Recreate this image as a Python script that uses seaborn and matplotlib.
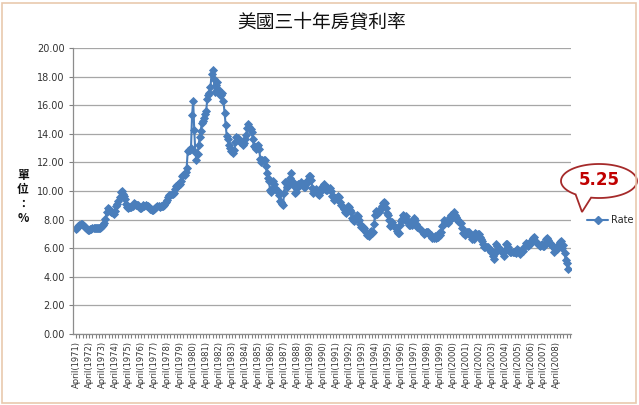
import numpy as np
import pandas as pd
import matplotlib
matplotlib.use("Agg")
import matplotlib.pyplot as plt
from matplotlib.patches import Polygon, Rectangle
from matplotlib.lines import Line2D
import seaborn as sns

# Monthly 30-year mortgage rate, April 1971 onward
r1971 = [7.31, 7.43, 7.53, 7.60, 7.70, 7.69, 7.63, 7.55, 7.48]
r1972 = [7.44, 7.32, 7.29, 7.29, 7.37, 7.37, 7.40, 7.40, 7.42, 7.42, 7.43, 7.44]
r1973 = [7.44, 7.44, 7.46, 7.54, 7.65, 7.73, 8.05, 8.50, 8.82, 8.77, 8.58, 8.54]
r1974 = [8.54, 8.46, 8.41, 8.58, 8.97, 9.09, 9.28, 9.59, 9.96, 9.98, 9.79, 9.62]
r1975 = [9.43, 9.10, 8.89, 8.82, 8.91, 8.89, 8.89, 8.94, 9.13, 9.10, 9.00, 9.03]
r1976 = [8.99, 8.85, 8.80, 8.78, 8.85, 8.99, 8.98, 9.00, 8.98, 8.94, 8.85, 8.76]
r1977 = [8.72, 8.67, 8.69, 8.75, 8.83, 8.86, 8.94, 8.94, 8.90, 8.92, 8.92, 8.96]
r1978 = [9.02, 9.15, 9.20, 9.35, 9.57, 9.71, 9.74, 9.78, 9.76, 9.86, 10.11, 10.35]
r1979 = [10.39, 10.41, 10.43, 10.50, 10.69, 11.04, 11.09, 11.09, 11.30, 11.64, 12.83, 12.90]
r1980 = [12.88, 13.04, 15.28, 16.32, 14.26, 12.71, 12.19, 12.56, 13.20, 13.79, 14.21, 14.79]
r1981 = [14.90, 15.13, 15.40, 15.58, 16.40, 16.70, 16.83, 17.29, 18.16, 18.45, 17.83, 16.92]
r1982 = [17.40, 17.60, 17.16, 16.89, 16.68, 16.70, 16.82, 16.27, 15.43, 14.61, 13.83, 13.62]
r1983 = [13.25, 13.04, 12.80, 12.78, 12.63, 12.87, 13.42, 13.81, 13.73, 13.54, 13.44, 13.42]
r1984 = [13.37, 13.23, 13.39, 13.65, 13.94, 14.42, 14.67, 14.47, 14.35, 14.13, 13.64, 13.18]
r1985 = [13.08, 12.92, 13.17, 13.20, 12.91, 12.22, 12.03, 12.19, 12.19, 12.14, 11.78, 11.26]
r1986 = [10.88, 10.71, 10.08, 9.94, 10.14, 10.68, 10.51, 10.20, 10.01, 9.98, 9.70, 9.32]
r1987 = [9.20, 9.08, 9.04, 9.83, 10.60, 10.54, 10.28, 10.33, 10.89, 11.26, 10.65, 10.64]
r1988 = [10.38, 9.89, 9.93, 10.20, 10.46, 10.46, 10.43, 10.60, 10.48, 10.30, 10.27, 10.61]
r1989 = [10.73, 10.65, 11.03, 11.05, 10.77, 10.20, 9.88, 9.99, 10.13, 9.95, 9.77, 9.74]
r1990 = [9.90, 10.20, 10.27, 10.37, 10.48, 10.16, 10.04, 10.10, 10.18, 10.18, 10.01, 9.67]
r1991 = [9.64, 9.37, 9.50, 9.49, 9.47, 9.62, 9.58, 9.24, 9.01, 8.86, 8.71, 8.50]
r1992 = [8.43, 8.76, 8.94, 8.85, 8.67, 8.51, 8.13, 7.98, 7.92, 8.09, 8.31, 8.22]
r1993 = [7.99, 7.68, 7.50, 7.47, 7.47, 7.42, 7.21, 7.11, 6.91, 6.83, 7.16, 7.17]
r1994 = [7.06, 7.15, 7.68, 8.32, 8.60, 8.40, 8.61, 8.51, 8.64, 8.93, 9.17, 9.20]
r1995 = [9.15, 8.83, 8.46, 8.32, 7.96, 7.57, 7.61, 7.86, 7.64, 7.48, 7.38, 7.20]
r1996 = [7.03, 7.08, 7.62, 7.93, 8.07, 8.32, 8.25, 8.00, 8.23, 7.92, 7.62, 7.60]
r1997 = [7.82, 7.65, 7.90, 8.14, 7.94, 7.69, 7.50, 7.48, 7.43, 7.29, 7.21, 7.10]
r1998 = [6.99, 7.04, 7.13, 7.14, 7.14, 7.00, 6.95, 6.92, 6.72, 6.71, 6.87, 6.72]
r1999 = [6.79, 6.81, 7.04, 6.92, 7.15, 7.55, 7.63, 7.94, 7.82, 7.85, 7.74, 7.91]
r2000 = [8.21, 8.33, 8.24, 8.15, 8.52, 8.29, 8.15, 8.03, 7.91, 7.80, 7.75, 7.38]
r2001 = [7.03, 7.05, 6.95, 7.08, 7.15, 7.16, 7.13, 6.95, 6.82, 6.62, 6.66, 7.07]
r2002 = [7.00, 6.89, 7.01, 6.99, 6.81, 6.65, 6.49, 6.29, 6.09, 6.11, 6.07, 6.05]
r2003 = [5.92, 5.84, 5.75, 5.81, 5.48, 5.23, 5.63, 6.26, 6.15, 5.95, 5.93, 5.88]
r2004 = [5.71, 5.64, 5.45, 5.83, 6.27, 6.29, 6.06, 5.87, 5.75, 5.72, 5.73, 5.75]
r2005 = [5.71, 5.63, 5.93, 5.86, 5.72, 5.58, 5.70, 5.82, 5.77, 6.07, 6.33, 6.27]
r2006 = [6.15, 6.25, 6.32, 6.51, 6.60, 6.68, 6.76, 6.52, 6.40, 6.36, 6.24, 6.14]
r2007 = [6.22, 6.29, 6.16, 6.18, 6.26, 6.66, 6.70, 6.57, 6.38, 6.38, 6.21, 6.10]
r2008 = [5.76, 5.92, 5.97, 5.92, 6.04, 6.32, 6.43, 6.48, 6.04, 6.20, 5.65, 5.20]
r2009 = [5.00, 4.55]

years_data = [r1971, r1972, r1973, r1974, r1975, r1976, r1977, r1978, r1979, r1980,
              r1981, r1982, r1983, r1984, r1985, r1986, r1987, r1988, r1989, r1990,
              r1991, r1992, r1993, r1994, r1995, r1996, r1997, r1998, r1999, r2000,
              r2001, r2002, r2003, r2004, r2005, r2006, r2007, r2008, r2009]
rates = [v for yr in years_data for v in yr]

label_years = list(range(1971, 2009))
tick_labels = [f"April({y})" for y in label_years]

title = "美國三十年房貸利率"
ylabel = "單\n位\n：\n%"
series_name = "Rate"
callout = "5.25"

df = pd.DataFrame({"idx": np.arange(len(rates)), "rate": rates})

sns.set_theme(style="white")
plt.rcParams["font.family"] = ["DejaVu Sans"]

W, H = 639, 405
fig = plt.figure(figsize=(W / 100, H / 100), dpi=100)
ax = fig.add_axes([73 / W, 1 - 334 / H, (571 - 73) / W, (334 - 48) / H])

blue = "#4A7EBB"
sns.lineplot(data=df, x="idx", y="rate", ax=ax, color=blue, linewidth=1.5,
             marker="D", markersize=4.2, markeredgecolor=blue, markeredgewidth=0.6)

ax.set_xlim(-3, 457)
ax.set_ylim(0, 20)
ax.set_yticks(np.arange(0, 20.01, 2))
ax.set_yticklabels([f"{v:.2f}" for v in np.arange(0, 20.01, 2)], fontsize=7, color="#333333")
ax.set_xticks(np.arange(len(tick_labels)) * 12)
ax.set_xticklabels(tick_labels, rotation=90, fontsize=6, color="#333333")
ax.set_xticks(np.arange(0, 457, 3), minor=True)
ax.tick_params(axis="x", which="both", direction="out", length=3, width=0.8,
               color="#808080", bottom=True, pad=2)
ax.tick_params(axis="y", which="major", direction="out", length=3, width=0.8,
               color="#808080", left=True, pad=3)
ax.grid(axis="y", color="#A6A6A6", linewidth=0.9)
ax.grid(axis="x", visible=False)
ax.set_axisbelow(True)
for s in ["top", "right"]:
    ax.spines[s].set_visible(False)
for s in ["left", "bottom"]:
    ax.spines[s].set_color("#8C8C8C")
    ax.spines[s].set_linewidth(0.9)
ax.set_xlabel("")
ax.set_ylabel("")

fig.text(322 / W, 1 - 22 / H, title, ha="center", va="center", fontsize=13.5,
         family=["Noto Sans CJK TC", "DejaVu Sans"], color="#111111")
fig.text(23 / W, 1 - 197 / H, ylabel, ha="center", va="center", fontsize=8.5,
         fontweight="bold", linespacing=1.15,
         family=["Noto Sans CJK TC", "DejaVu Sans"], color="#111111")

handle = Line2D([], [], color=blue, linewidth=1.5, marker="D", markersize=4,
                markeredgecolor=blue)
fig.legend([handle], [series_name], loc="center left",
           bbox_to_anchor=(583 / W, 1 - 220 / H), frameon=False, fontsize=7,
           handlelength=2.2, handletextpad=0.3, borderaxespad=0)

# callout bubble
cx, cy, a, b = 599, H - 181, 38, 17
t = np.deg2rad(np.linspace(258, 232 + 360, 200))
pts = [((cx + a * np.cos(tt)) / W, (cy + b * np.sin(tt)) / H) for tt in t]
pts.append((582 / W, (H - 212) / H))
bubble = Polygon(pts, closed=True, transform=fig.transFigure, facecolor="white",
                 edgecolor="#A52A2A", linewidth=1.3)
fig.add_artist(bubble)
fig.text(cx / W, (cy + 1) / H, callout, ha="center", va="center", fontsize=12,
         fontweight="bold", color="#C00000")

border = Rectangle((2 / W, 2 / H), (W - 5) / W, (H - 5) / H, transform=fig.transFigure,
                   fill=False, edgecolor="#E9C9AE", linewidth=1.2)
fig.add_artist(border)

fig.savefig("out.png", dpi=100)
